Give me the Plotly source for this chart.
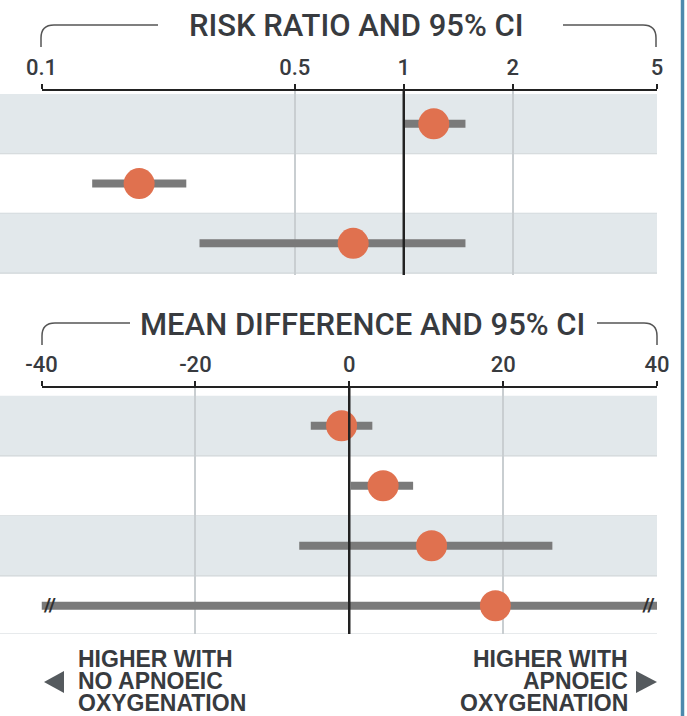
import math
import plotly.graph_objects as go

# ---- data -------------------------------------------------------------
rr_rows = [0, 1, 2]
rr_est = [1.21, 0.186, 0.725]
rr_lo = [1.0, 0.138, 0.273]
rr_hi = [1.48, 0.251, 1.48]
rr_ticks = [0.1, 0.5, 1, 2, 5]
rr_ticktext = ["0.1", "0.5", "1", "2", "5"]

md_rows = [0, 1, 2, 3]
md_est = [-1.0, 4.4, 10.7, 19.0]
md_lo = [-5.0, 0.2, -6.5, -40]
md_hi = [3.0, 8.3, 26.4, 40]
md_truncated = [False, False, False, True]
md_ticks = [-40, -20, 0, 20, 40]
md_ticktext = ["-40", "-20", "0", "20", "40"]

rr_title = "RISK RATIO AND 95% CI"
md_title = "MEAN DIFFERENCE AND 95% CI"
left_lines = ["HIGHER WITH", "NO APNOEIC", "OXYGENATION"]
right_lines = ["HIGHER WITH", "APNOEIC", "OXYGENATION"]

# ---- styling ----------------------------------------------------------
W, H = 687, 716
FONT = "Roboto"
TEXT = "#383b3f"
AXIS = "#222222"
GRID = "#c9ced1"
SHADE = "#e2e8eb"
ROWLINE = "#d0d6d9"
BAR = "#7a7a7a"
DOT = "#e0714f"
BORDER = "#4d89ad"


def px(x):
    return x / W


def py(y):
    return 1 - y / H


PLOT_L, PLOT_R = 41.5, 657.0
rr_yrange = [2.53, -0.55]
md_yrange = [3.47, -0.63]

fig = go.Figure()


def seg_xy(lo, hi, rows):
    xs, ys = [], []
    for a, b, r in zip(lo, hi, rows):
        xs += [a, b, None]
        ys += [r, r, None]
    return xs, ys


# confidence interval bars
x, y = seg_xy(rr_lo, rr_hi, rr_rows)
fig.add_trace(go.Scatter(x=x, y=y, mode="lines", xaxis="x", yaxis="y",
                         line=dict(color=BAR, width=8), hoverinfo="skip"))
x, y = seg_xy(md_lo, md_hi, md_rows)
fig.add_trace(go.Scatter(x=x, y=y, mode="lines", xaxis="x2", yaxis="y2",
                         line=dict(color=BAR, width=8), hoverinfo="skip"))

# break marks on truncated intervals
bx, by = [], []
for lo, hi, r, t in zip(md_lo, md_hi, md_rows, md_truncated):
    if t:
        bx += [lo + 1.1, hi - 1.1]
        by += [r, r]
fig.add_trace(go.Scatter(x=bx, y=by, mode="text", text=["<b>//</b>"] * len(bx),
                         textposition="middle center", xaxis="x2", yaxis="y2",
                         textfont=dict(family=FONT, size=19, color="#2f2f2f"),
                         hoverinfo="skip"))

# point estimates
fig.add_trace(go.Scatter(x=rr_est, y=rr_rows, mode="markers", xaxis="x", yaxis="y",
                         marker=dict(size=31, color=DOT, line=dict(width=0))))
fig.add_trace(go.Scatter(x=md_est, y=md_rows, mode="markers", xaxis="x2", yaxis="y2",
                         marker=dict(size=31, color=DOT, line=dict(width=0))))

shapes = []


def row_bands(rows, yref, yrange):
    top, bottom = yrange[1], yrange[0]
    for r in rows:
        y0 = max(r - 0.5, top)
        y1 = min(r + 0.5, bottom)
        if r % 2 == 0:
            shapes.append(dict(type="rect", xref="paper", yref=yref,
                               x0=0, x1=px(PLOT_R), y0=y0, y1=y1,
                               fillcolor=SHADE, line=dict(width=0), layer="below"))
        shapes.append(dict(type="line", xref="paper", yref=yref,
                           x0=0, x1=px(PLOT_R), y0=y1, y1=y1,
                           line=dict(color=ROWLINE, width=1.2), layer="below"))


row_bands(rr_rows, "y", rr_yrange)
row_bands(md_rows, "y2", md_yrange)

# lines of no effect
shapes.append(dict(type="line", xref="x", yref="y domain", x0=1, x1=1, y0=0, y1=1,
                   line=dict(color=AXIS, width=2.5)))
shapes.append(dict(type="line", xref="x2", yref="y2 domain", x0=0, x1=0, y0=0, y1=1,
                   line=dict(color=AXIS, width=2.5)))


def bracket(x_left, x_right, y_top, y_bottom, gap_l, gap_r, r=13):
    p = (f"M {px(x_left)},{py(y_bottom)} L {px(x_left)},{py(y_top + r)} "
         f"Q {px(x_left)},{py(y_top)} {px(x_left + r)},{py(y_top)} L {px(gap_l)},{py(y_top)} "
         f"M {px(gap_r)},{py(y_top)} L {px(x_right - r)},{py(y_top)} "
         f"Q {px(x_right)},{py(y_top)} {px(x_right)},{py(y_top + r)} L {px(x_right)},{py(y_bottom)}")
    shapes.append(dict(type="path", xref="paper", yref="paper", path=p,
                       line=dict(color="#555555", width=1.5)))


bracket(41, 656, 25, 47, 158, 563)
bracket(42, 657, 323, 345, 130, 597)

# direction arrows
shapes.append(dict(type="path", xref="paper", yref="paper",
                   path=f"M {px(44)},{py(682)} L {px(64)},{py(671)} L {px(64)},{py(693)} Z",
                   fillcolor="#555a5e", line=dict(width=0)))
shapes.append(dict(type="path", xref="paper", yref="paper",
                   path=f"M {px(657)},{py(682)} L {px(636)},{py(671)} L {px(636)},{py(693)} Z",
                   fillcolor="#555a5e", line=dict(width=0)))

# right-hand frame rule
shapes.append(dict(type="line", xref="paper", yref="paper", x0=px(682.5), x1=px(682.5),
                   y0=0, y1=1, line=dict(color=BORDER, width=3.5)))

title_font = dict(family=FONT, size=31, color=TEXT, weight=500)
annotations = [
    dict(text=rr_title, x=px(356.5), y=py(26), xref="paper", yref="paper",
         showarrow=False, xanchor="center", yanchor="middle", font=title_font),
    dict(text=md_title, x=px(362.5), y=py(324), xref="paper", yref="paper",
         showarrow=False, xanchor="center", yanchor="middle", font=title_font),
]
note_font = dict(family="Liberation Sans", size=23, color=TEXT, weight=700)
for i, (lt, rt) in enumerate(zip(left_lines, right_lines)):
    yy = py(659 + i * 22)
    annotations.append(dict(text=lt, x=px(76), y=yy, xref="paper", yref="paper",
                            showarrow=False, xanchor="left", yanchor="middle",
                            font=note_font))
    annotations.append(dict(text=rt, x=px(630), y=yy, xref="paper", yref="paper",
                            showarrow=False, xanchor="right", yanchor="middle",
                            font=note_font))

x_dom = [px(PLOT_L), px(PLOT_R)]
tickfont = dict(family=FONT, size=22, color=TEXT, weight=500)
# main axis: labels, axis line and grid
common_x = dict(domain=x_dom, side="top", showline=True, linecolor=AXIS, linewidth=2,
                ticks="outside", ticklen=5, tickwidth=2, tickcolor=AXIS,
                showgrid=True, gridcolor=GRID, gridwidth=1.5, zeroline=False,
                tickfont=tickfont, fixedrange=True, automargin=False)
# overlay axes: longer upward ticks and the downward half of each tick
up_x = dict(domain=x_dom, side="top", showline=False, ticks="outside", ticklen=9,
            tickwidth=2, tickcolor=AXIS, showgrid=False, zeroline=False,
            showticklabels=False, automargin=False)
down_x = dict(up_x, ticks="inside", ticklen=8)

rr_range = [math.log10(rr_ticks[0]), math.log10(rr_ticks[-1])]
md_range = [md_ticks[0], md_ticks[-1]]

fig.update_layout(
    template="none",
    width=W, height=H, margin=dict(l=0, r=0, t=0, b=0, autoexpand=False),
    paper_bgcolor="white", plot_bgcolor="rgba(0,0,0,0)", showlegend=False,
    xaxis=dict(**common_x, type="log", range=rr_range, anchor="y",
               tickvals=rr_ticks, ticktext=rr_ticktext),
    xaxis3=dict(**down_x, type="log", range=rr_range, anchor="y", overlaying="x",
                tickvals=rr_ticks),
    xaxis5=dict(**up_x, type="log", range=rr_range, anchor="y", overlaying="x",
                tickvals=rr_ticks),
    yaxis=dict(domain=[py(275), py(91)], range=rr_yrange, visible=False,
               fixedrange=True, automargin=False),
    xaxis2=dict(**common_x, range=md_range, anchor="y2",
                tickvals=md_ticks, ticktext=md_ticktext),
    xaxis4=dict(**down_x, range=md_range, anchor="y2", overlaying="x2",
                tickvals=md_ticks),
    xaxis6=dict(**up_x, range=md_range, anchor="y2", overlaying="x2",
                tickvals=md_ticks),
    yaxis2=dict(domain=[py(634), py(388)], range=md_yrange, visible=False,
                fixedrange=True, automargin=False),
    shapes=shapes, annotations=annotations,
)

fig.write_html("out.html")
